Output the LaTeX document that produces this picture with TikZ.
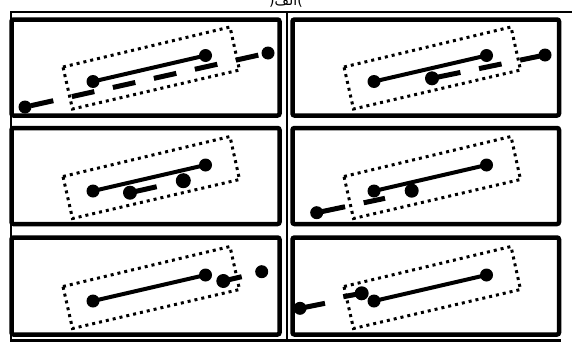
\documentclass[tikz,border=0pt]{standalone}
\usepackage{fontspec}
\newfontfamily\arabicfont[Script=Arabic]{DejaVu Sans}
\TeXXeTstate=1
\tikzset{
  panel/.style={line width=4.5pt, rounded corners=2pt},
  frameline/.style={line width=2.5pt},
  zone/.style={line width=3pt, dash pattern=on 3pt off 4pt},
  rod/.style={line width=4pt},
  track/.style={line width=5pt, dash pattern=on 23pt off 19pt, dash phase=36pt},
  stub/.style={line width=5pt},
}
\newcommand\panelcore[1]{%
  \coordinate (#1z1) at (63,67);
  \coordinate (#1z2) at (230,27);
  \coordinate (#1z3) at (239.5,70);
  \coordinate (#1z4) at (72.5,109);
  \draw[zone] (#1z1) -- (#1z2) -- (#1z3) -- (#1z4) -- cycle;
  \coordinate (#1ra) at (93,81.5);
  \coordinate (#1rb) at (205.5,55.5);
  \draw[rod] (#1ra) -- (#1rb);
  \fill (#1ra) circle[radius=6.5pt];
  \fill (#1rb) circle[radius=6.5pt];
}
\begin{document}
\begin{tikzpicture}[x=1pt,y=-1pt]
\useasboundingbox (0,0) rectangle (572,343);
% title (cut off at the top)
\node[anchor=base, inner sep=0pt, font=\arabicfont\fontsize{14}{16}\selectfont] (title) at (286,5) {(\beginR الف\endR)};
% outer frame lines
\coordinate (ftl) at (11,12);
\coordinate (ftr) at (572,12);
\coordinate (fbl) at (11,340.5);
\coordinate (fbr) at (561,340.5);
\coordinate (fmt) at (286.5,12);
\coordinate (fmb) at (286.5,340.5);
\draw[frameline] (ftr) -- (ftl) -- (fbl) -- (fbr);
\draw[line width=2pt] (fmt) -- (fmb);
% panels
\draw[panel] (11.5,19.5) rectangle (279.5,115.5);
\draw[panel] (292.5,19.5) rectangle (559,115.5);
\draw[panel] (11.5,128) rectangle (279.5,224);
\draw[panel] (292.5,128) rectangle (559,224);
\draw[panel] (11.5,237.5) rectangle (279.5,334.5);
\draw[panel] (292.5,237.5) rectangle (559,334.5);
% cores
\begin{scope}\panelcore{a}\end{scope}
\begin{scope}[shift={(281,0)}]\panelcore{b}\end{scope}
\begin{scope}[shift={(0,109.5)}]\panelcore{c}\end{scope}
\begin{scope}[shift={(281,109.5)}]\panelcore{d}\end{scope}
\begin{scope}[shift={(0,219.5)}]\panelcore{e}\end{scope}
\begin{scope}[shift={(281,219.5)}]\panelcore{f}\end{scope}
% panel 1 moving track
\coordinate (a1) at (25,107);
\coordinate (a2) at (268,53);
\draw[track] (a1) -- (a2);
\fill (a1) circle[radius=6.5pt];
\fill (a2) circle[radius=6.5pt];
% panel 2
\coordinate (b1) at (432,78.3);
\coordinate (b2) at (545,55);
\draw[track] (b1) -- (b2);
\fill (b1) circle[radius=7pt];
\fill (b2) circle[radius=6.5pt];
% panel 3
\coordinate (c1) at (130,192.7);
\coordinate (c2) at (156.7,186.7);
\coordinate (c3) at (183.3,180.7);
\draw[stub] (c1) -- (c2);
\fill (c1) circle[radius=7pt];
\fill (c3) circle[radius=7.5pt];
% panel 4
\coordinate (d1) at (316.7,212.7);
\coordinate (d2) at (385,198.3);
\coordinate (d3) at (411.7,190.7);
\draw[track] (d1) -- (d2);
\fill (d1) circle[radius=6.5pt];
\fill (d3) circle[radius=7pt];
% panel 5
\coordinate (e1) at (223.3,281);
\coordinate (e2) at (241.7,276.7);
\coordinate (e3) at (261.7,271.7);
\draw[stub] (e1) -- (e2);
\fill (e1) circle[radius=7pt];
\fill (e3) circle[radius=6.5pt];
% panel 6
\coordinate (f1) at (361.7,293.3);
\coordinate (f2) at (343.3,296.7);
\coordinate (f3) at (300,308.3);
\coordinate (f4) at (325,303.3);
\draw[stub] (f1) -- (f2);
\draw[stub] (f3) -- (f4);
\fill (f1) circle[radius=7pt];
\fill (f3) circle[radius=6.5pt];
\end{tikzpicture}
\end{document}
